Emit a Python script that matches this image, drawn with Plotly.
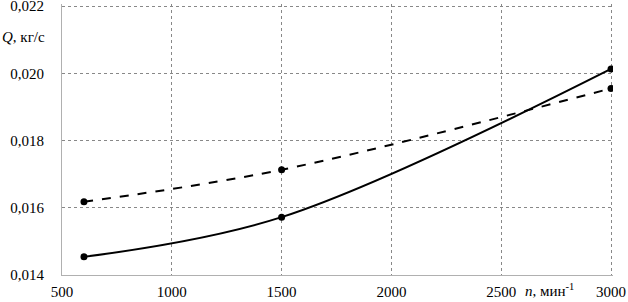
import plotly.graph_objects as go

n_vals = [600, 1500, 3000]
q_solid = [0.01454, 0.01572, 0.02013]
q_dashed = [0.01618, 0.01713, 0.01955]

x_ticks = [500, 1000, 1500, 2000, 2500, 3000]
y_ticks = [0.014, 0.016, 0.018, 0.020, 0.022]
y_ticktext = ["0,014", "0,016", "0,018", "0,020", "0,022"]

font_family = "'Liberation Serif', 'Times New Roman', Times, serif"

fig = go.Figure()
fig.add_trace(go.Scatter(
    x=n_vals, y=q_solid, mode="lines+markers",
    line=dict(color="black", width=2, shape="spline", smoothing=1.0),
    marker=dict(color="black", size=7), showlegend=False))
fig.add_trace(go.Scatter(
    x=n_vals, y=q_dashed, mode="lines+markers",
    line=dict(color="black", width=2, dash="dash", shape="spline", smoothing=1.0),
    marker=dict(color="black", size=7), showlegend=False))

grid = dict(showgrid=True, gridcolor="#888888", griddash="dot", gridwidth=1)

fig.update_xaxes(range=[500, 3009], tickvals=x_ticks, ticktext=[str(v) for v in x_ticks],
                 showline=True, linecolor="#b0b0b0", linewidth=1, zeroline=False,
                 ticks="", ticklabelstandoff=3, automargin=False, ticklabeloverflow="allow",
                 **grid, tickfont=dict(family=font_family, size=15, color="black"))
fig.update_yaxes(range=[0.014, 0.02206], tickvals=y_ticks, ticktext=y_ticktext,
                 showline=True, linecolor="#b0b0b0", linewidth=1, zeroline=False,
                 ticks="", ticklabelstandoff=14, automargin=False, ticklabeloverflow="allow",
                 **grid, tickfont=dict(family=font_family, size=15, color="black"))

fig.add_annotation(text="<i>Q</i>, кг/с", xref="paper", yref="paper",
                   x=-0.027, y=0.88, xanchor="right", yanchor="middle", showarrow=False,
                   font=dict(family=font_family, size=15, color="black"))
fig.add_annotation(text="<i>n</i>, мин<sup>-1</sup>", xref="paper", yref="paper",
                   x=0.885, y=-0.015, xanchor="center", yanchor="top", showarrow=False,
                   font=dict(family=font_family, size=15, color="black"))

fig.update_layout(width=628, height=302, margin=dict(l=62, r=15, t=4, b=27),
                  plot_bgcolor="white", paper_bgcolor="white",
                  font=dict(family=font_family))

fig.write_html("out.html", config={"displayModeBar": False},
               post_script="document.body.style.margin='0';document.body.style.padding='0';")
